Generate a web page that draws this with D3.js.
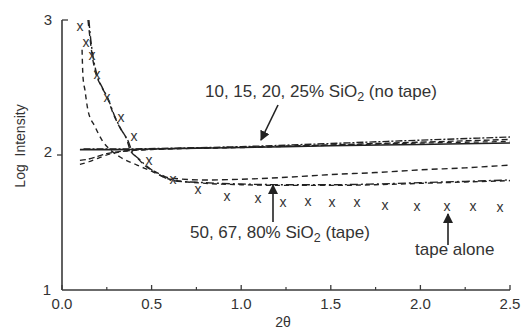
<!DOCTYPE html>
<html><head><meta charset="utf-8">
<script src="https://cdn.jsdelivr.net/npm/d3@7"></script>
<style>
html,body{margin:0;padding:0;background:#fff;}
text{font-family:"Liberation Sans",Arial,Helvetica,sans-serif;fill:#333;}
</style></head>
<body>
<svg id="chart" width="527" height="330"></svg>
<script>
// ---- data ----
const xTicks = [0.0, 0.5, 1.0, 1.5, 2.0, 2.5];
const xMinorTicks = [0.25, 0.75, 1.25, 1.75, 2.25];
const yTicks = [1, 2, 3];
const xTickLabels = ["0.0", "0.5", "1.0", "1.5", "2.0", "2.5"];
const yTickLabels = ["1", "2", "3"];

// "tape alone" markers (x)
const tapeAloneX = [0.100,0.134,0.167,0.195,0.251,0.329,0.402,0.485,0.619,0.759,0.921,1.094,1.233,1.373,1.507,1.646,1.802,1.981,2.148,2.294,2.444];
const tapeAloneY = [2.948,2.830,2.733,2.593,2.422,2.274,2.133,1.956,1.815,1.741,1.689,1.674,1.644,1.652,1.644,1.644,1.622,1.615,1.615,1.615,1.607];

// no-tape series (10, 15, 20, 25% SiO2)
const noTape1 = [[0.10,2.040],[0.30,2.040],[0.50,2.045],[1.00,2.055],[1.50,2.068],[2.00,2.078],[2.50,2.089]];
const noTape2 = [[0.12,2.045],[0.35,2.045],[0.60,2.050],[1.00,2.062],[1.50,2.085],[2.00,2.110],[2.50,2.133]];
const noTape3 = [[0.10,1.960],[0.15,1.970],[0.20,1.990],[0.25,2.010],[0.35,2.030],[0.50,2.042],[1.00,2.058],[1.50,2.075],[2.00,2.095],[2.50,2.115]];
const noTape4 = [[0.10,1.930],[0.15,1.950],[0.20,1.975],[0.25,2.000],[0.35,2.028],[0.50,2.040],[1.00,2.055],[1.50,2.072],[2.00,2.088],[2.50,2.100]];

// tape series (50, 67, 80% SiO2)
const tapeA = [[0.145,3.00],[0.156,2.87],[0.167,2.75],[0.184,2.63],[0.223,2.50],[0.251,2.43],[0.285,2.31],[0.324,2.20],[0.363,2.11],[0.379,2.04],[0.419,1.98],[0.474,1.91],[0.530,1.87],[0.600,1.83],[0.800,1.815],[1.000,1.820],[1.250,1.835],[1.500,1.855],[1.750,1.870],[2.000,1.890],[2.250,1.905],[2.500,1.925]];
const tapeB = [[0.150,3.00],[0.160,2.86],[0.172,2.74],[0.190,2.62],[0.228,2.49],[0.256,2.42],[0.290,2.30],[0.330,2.19],[0.370,2.10],[0.390,2.03],[0.430,1.97],[0.490,1.90],[0.550,1.85],[0.620,1.81],[0.800,1.795],[1.000,1.785],[1.250,1.780],[1.500,1.780],[1.750,1.785],[2.000,1.795],[2.250,1.805],[2.500,1.815]];
const tapeC = [[0.112,2.78],[0.117,2.58],[0.128,2.48],[0.145,2.33],[0.184,2.21],[0.223,2.11],[0.268,2.04],[0.324,1.985],[0.419,1.925],[0.491,1.885],[0.603,1.820],[0.800,1.790],[1.000,1.780],[1.250,1.775],[1.500,1.775],[1.750,1.780],[2.000,1.790],[2.250,1.800],[2.500,1.810]];

// ---- chart ----
const svg = d3.select("#chart");
const x = d3.scaleLinear().domain([0, 2.5]).range([62, 510]);
const y = d3.scaleLinear().domain([1, 3]).range([290, 20]);
const axisColor = "#3a3a3a";

// axes lines
svg.append("line").attr("x1", x(0)).attr("x2", x(2.5)).attr("y1", y(1)).attr("y2", y(1))
  .attr("stroke", axisColor).attr("stroke-width", 1.6);
svg.append("line").attr("x1", x(0)).attr("x2", x(0)).attr("y1", y(1)).attr("y2", y(3))
  .attr("stroke", axisColor).attr("stroke-width", 1.6);

// x ticks (inward)
svg.selectAll(".xt").data(xTicks).enter().append("line")
  .attr("x1", d => x(d)).attr("x2", d => x(d)).attr("y1", y(1)).attr("y2", y(1) - 5)
  .attr("stroke", axisColor).attr("stroke-width", 1.3);
svg.selectAll(".xmt").data(xMinorTicks).enter().append("line")
  .attr("x1", d => x(d)).attr("x2", d => x(d)).attr("y1", y(1)).attr("y2", y(1) - 3)
  .attr("stroke", axisColor).attr("stroke-width", 1.2);
svg.selectAll(".xtl").data(xTicks).enter().append("text")
  .attr("x", d => x(d)).attr("y", 309).attr("text-anchor", "middle")
  .attr("font-size", "15px").text((d, i) => xTickLabels[i]);

// y ticks
svg.append("line").attr("x1", x(0)).attr("x2", x(0) + 6).attr("y1", y(3)).attr("y2", y(3))
  .attr("stroke", axisColor).attr("stroke-width", 1.3);
svg.append("line").attr("x1", x(0) - 5).attr("x2", x(0)).attr("y1", y(2)).attr("y2", y(2))
  .attr("stroke", axisColor).attr("stroke-width", 1.3);
const yLabelDy = {1: 0, 2: -3, 3: 0};
svg.selectAll(".ytl").data(yTicks).enter().append("text")
  .attr("x", d => d === 1 ? 47 : 48).attr("y", d => y(d) + yLabelDy[d]).attr("dy", "0.36em")
  .attr("text-anchor", "middle").attr("font-size", "15px").text((d, i) => yTickLabels[i]);

// axis titles
svg.append("text").attr("x", x(1.25) - 3).attr("y", 327).attr("text-anchor", "middle")
  .attr("font-size", "14px").text("2θ");
svg.append("text").attr("transform", "translate(25,146) rotate(-90)")
  .attr("text-anchor", "middle").attr("font-size", "14px")
  .style("white-space", "pre").text("Log  Intensity");

// series lines
const line = d3.line().x(d => x(d[0])).y(d => y(d[1])).curve(d3.curveMonotoneX);
const series = [
  {d: noTape1, dash: null, w: 1.6},
  {d: noTape2, dash: "7,2,2,2", w: 1.4},
  {d: noTape3, dash: "6,3", w: 1.4},
  {d: noTape4, dash: "5,4", w: 1.3},
  {d: tapeA, dash: "6,4", w: 1.4},
  {d: tapeB, dash: "8,3,2,3", w: 1.4},
  {d: tapeC, dash: "5,4", w: 1.4}
];
series.forEach(s => {
  svg.append("path").attr("d", line(s.d)).attr("fill", "none")
    .attr("stroke", "#222").attr("stroke-width", s.w)
    .attr("stroke-dasharray", s.dash);
});

// tape alone markers
svg.selectAll(".mk").data(tapeAloneX).enter().append("text")
  .attr("x", d => x(d)).attr("y", (d, i) => y(tapeAloneY[i])).attr("dy", "0.3em")
  .attr("text-anchor", "middle").attr("font-size", "14px").attr("fill", "#333")
  .text("x");

// annotations
const defs = svg.append("defs");
defs.append("marker").attr("id", "ah").attr("viewBox", "0 0 10 10")
  .attr("refX", 9).attr("refY", 5).attr("markerWidth", 10).attr("markerHeight", 10)
  .attr("markerUnits", "userSpaceOnUse").attr("orient", "auto")
  .append("path").attr("d", "M0,0 L10,5 L0,10 Z").attr("fill", "#222");

function arrow(x1, y1, x2, y2) {
  svg.append("line").attr("x1", x1).attr("y1", y1).attr("x2", x2).attr("y2", y2)
    .attr("stroke", "#222").attr("stroke-width", 1.6).attr("marker-end", "url(#ah)");
}

function label(xp, yp, parts) {
  const t = svg.append("text").attr("x", xp).attr("y", yp).attr("font-size", "17px");
  parts.forEach(p => {
    const ts = t.append("tspan").text(p.t);
    if (p.sub) ts.attr("font-size", "12.5px").attr("dy", "4");
    if (p.up) ts.attr("dy", "-4");
  });
}

label(205, 97, [{t: "10, 15, 20, 25% SiO"}, {t: "2", sub: true}, {t: " (no tape)", up: true}]);
arrow(278, 105, 261, 140);

label(190, 238, [{t: "50, 67, 80% SiO"}, {t: "2", sub: true}, {t: " (tape)", up: true}]);
arrow(273, 222, 273, 185);

label(415, 255, [{t: "tape alone"}]);
arrow(448, 245, 448, 214);
</script>
</body></html>
